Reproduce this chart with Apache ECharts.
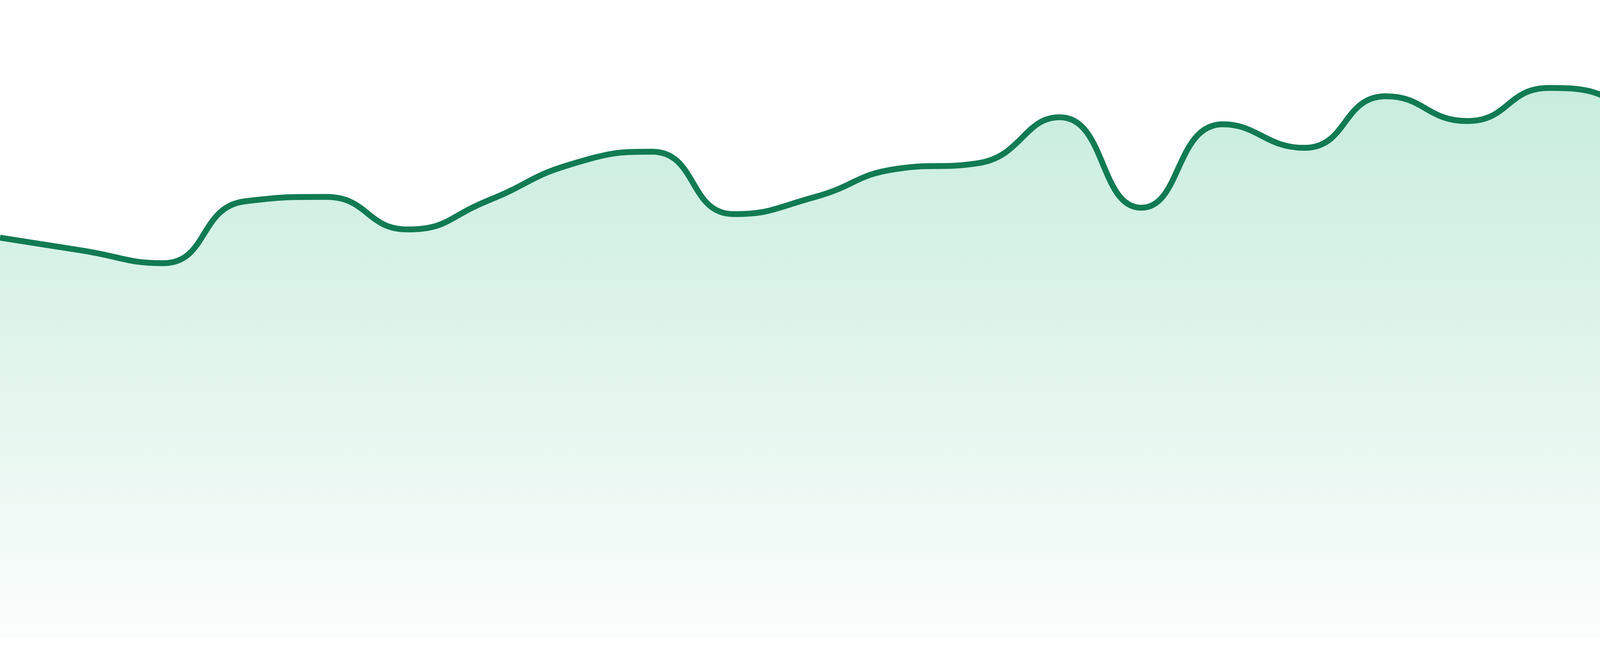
<!DOCTYPE html>
<html>
<head>
<meta charset="utf-8">
<script src="https://cdn.jsdelivr.net/npm/echarts@6/dist/echarts.min.js"></script>
<style>
html,body{margin:0;padding:0;background:#ffffff;}
#chart{width:4800px;height:1680px;}
</style>
</head>
<body>
<div id="chart"></div>
<script>
const categories = ['1','2','3','4','5','6','7','8','9','10','11','12','13','14','15','16','17','18','19','20','21','22','23','24'];
const values = [62.7, 60.7, 58.7, 68.4, 69.1, 64.0, 68.6, 74.2, 76.2, 66.4, 69.1, 73.5, 74.4, 81.6, 67.4, 80.5, 76.8, 84.9, 81.0, 86.2, 82.9, 73.3, 80.8, 87.6];

const chart = echarts.init(document.getElementById('chart'), null, {renderer: 'canvas'});
chart.setOption({
  animation: false,
  backgroundColor: '#ffffff',
  grid: {left: 0, right: 0, top: 0, bottom: 48, containLabel: false},
  xAxis: {
    type: 'category',
    data: categories,
    boundaryGap: false,
    show: false
  },
  yAxis: {
    type: 'value',
    min: 0,
    max: 100,
    show: false
  },
  series: [{
    type: 'line',
    data: values,
    smooth: true,
    symbol: 'none',
    lineStyle: {color: '#117b52', width: 15},
    itemStyle: {color: '#117b52'},
    areaStyle: {
      color: new echarts.graphic.LinearGradient(0, 0, 0, 1, [
        {offset: 0, color: '#aee4cd'},
        {offset: 1, color: '#f9fcfb'}
      ])
    }
  }]
});
</script>
</body>
</html>
